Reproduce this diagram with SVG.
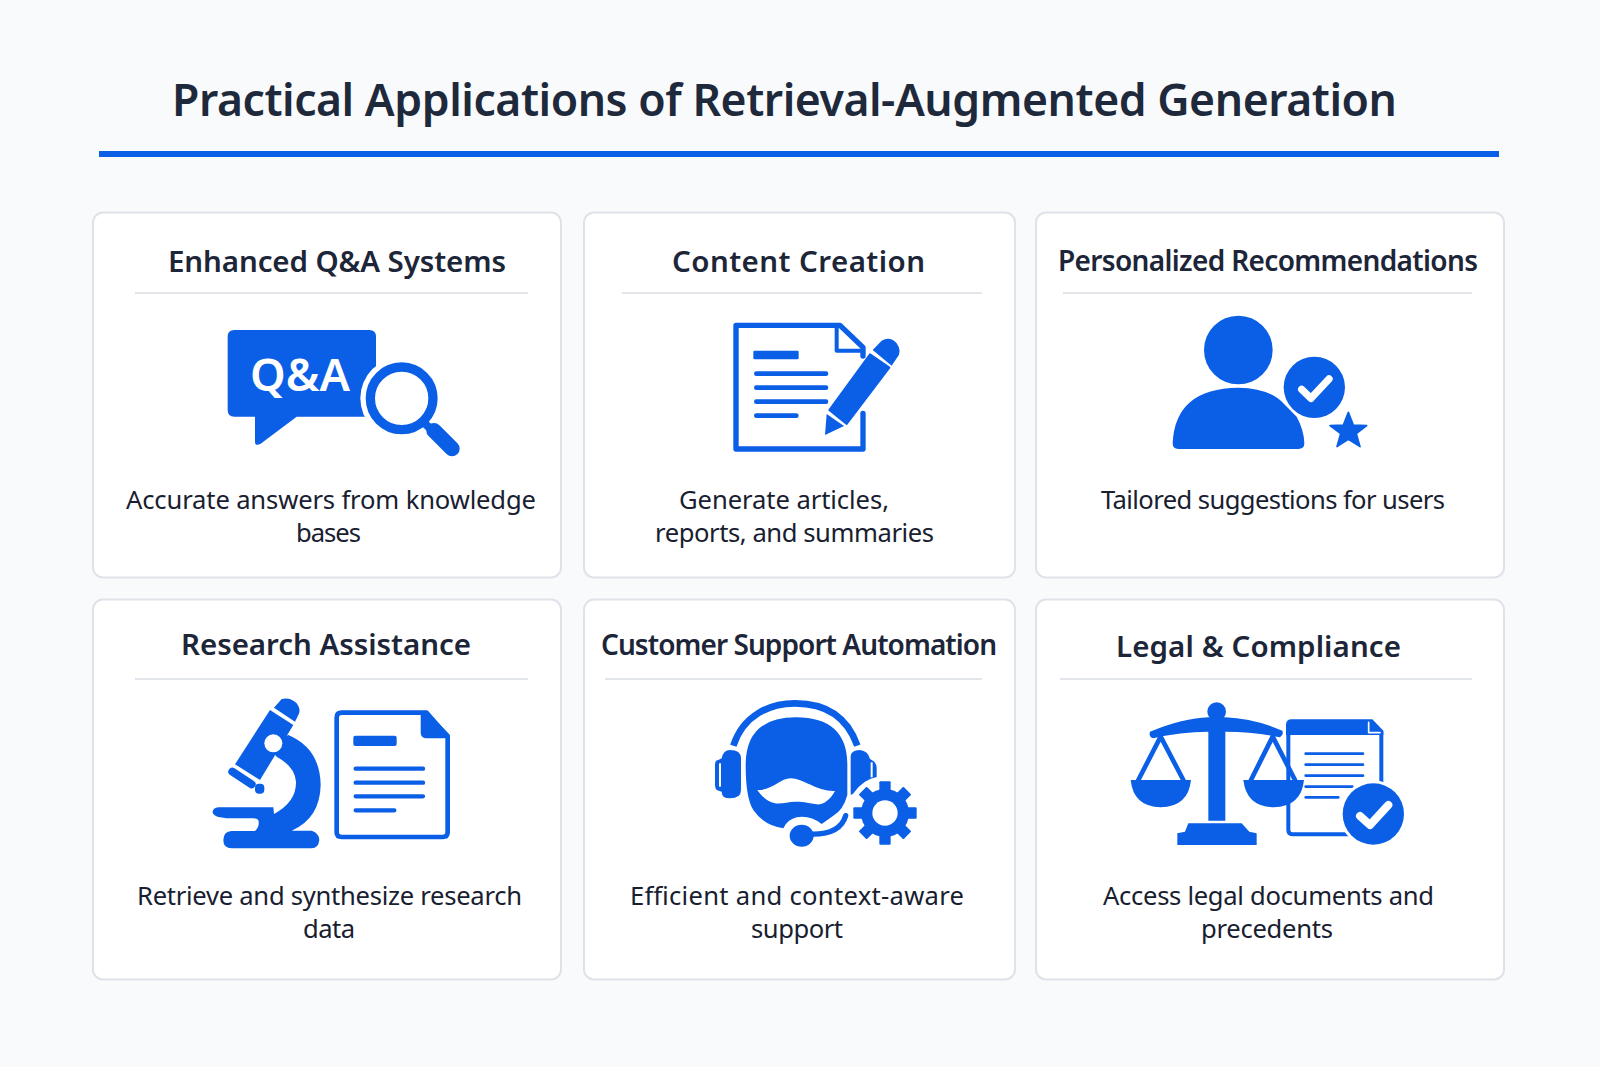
<svg xmlns="http://www.w3.org/2000/svg" width="1600" height="1067" viewBox="0 0 1600 1067">
<style>
text{font-family:"Noto Sans","Open Sans","Liberation Sans",sans-serif}
.title{font-size:44.5px;font-weight:600;fill:#1e293b}
.head{font-size:29.5px;font-weight:600;fill:#1c2638}
.small{font-size:28px}
.body{font-size:25.6px;font-weight:400;fill:#182030}
.card{fill:#fff;stroke:#dfe3e9;stroke-width:2}
.rule{stroke:#d8dce2;stroke-width:1.6}
.b{fill:#0a5fe6}
.w{fill:#fff}
.ls{stroke:#0a5fe6;fill:none;stroke-linecap:round;stroke-linejoin:round}
.ws{stroke:#fff;fill:none;stroke-linecap:round;stroke-linejoin:round}
</style>
<rect width="1600" height="1067" fill="#f9fafb"/>
<g id="header">
<text class="title" x="172" y="115.500" textLength="1225">Practical Applications of Retrieval-Augmented Generation</text>
<rect x="99" y="151" width="1400" height="6" class="b"/>
</g>
<g id="card-qa">
<rect class="card" x="93" y="212.500" width="468" height="365" rx="10"/>
<text class="head" x="168" y="272" textLength="338">Enhanced Q&amp;A Systems</text>
<line class="rule" x1="135" y1="293" x2="528" y2="293"/>
<g transform="translate(200,300) scale(.33333)">
<path class="b" d="M103,90H508Q528,90 528,110V330Q528,350 508,350H290L182,431Q165,440 165,425V350H103Q83,350 83,330V110Q83,90 103,90Z"/>
<text x="150" y="272" font-size="136" font-weight="600" class="w" textLength="300">Q&amp;A</text>
<circle cx="605" cy="295" r="124" class="w"/>
<circle cx="605" cy="295" r="94" fill="#fff" stroke="#0a5fe6" stroke-width="28"/>
<path class="ls" d="M672,368L700,395" stroke-width="24"/>
<path class="ls" d="M702,392L756,446" stroke-width="46"/>
</g>
</g>
<g id="card-content">
<rect class="card" x="584" y="212.500" width="431" height="365" rx="10"/>
<text class="head" x="672" y="272" textLength="253">Content Creation</text>
<line class="rule" x1="622" y1="293" x2="982" y2="293"/>
<g transform="translate(700,300) scale(.33333)">
<path class="ls" stroke-width="16" d="M489,340V447H108V76H420L489,142V168"/>
<path class="ls" stroke-width="12" d="M410,82V152H484"/>
<rect class="b" x="160" y="152" width="136" height="26" rx="4"/>
<path class="ls" stroke-width="14" d="M169,221H378M169,263H378M169,305H378M169,347H289"/>
<path class="b" d="M510,163L568,203L440,372L388,330Z" stroke="#0a5fe6" stroke-width="6" stroke-linejoin="round"/>
<path class="b" d="M518,150L545,122Q570,108 590,130Q608,155 590,175L575,197Z"/>
<path class="b" d="M380,342L432,378L375,405Z"/>
</g>
</g>
<g id="card-recommend">
<rect class="card" x="1036" y="212.500" width="468" height="365" rx="10"/>
<text class="head small" x="1058" y="271" textLength="420">Personalized Recommendations</text>
<line class="rule" x1="1063" y1="293" x2="1472" y2="293"/>
<g transform="translate(1150,300) scale(.33333)">
<circle class="b" cx="265" cy="150" r="103"/>
<path class="b" d="M68,430Q75,265 265,263Q360,265 400,310L440,350Q462,390 463,430Q463,447 445,447H85Q68,447 68,430Z"/>
<circle class="b" cx="493" cy="262" r="92"/>
<path class="ws" stroke-width="22" d="M455,268L483,295L537,237"/>
<path class="b" stroke="#0a5fe6" stroke-width="5" stroke-linejoin="round" d="M595,337L610,375L650,377L619,401L630,440L595,418L561,440L572,401L540,377L580,375Z"/>
</g>
</g>
<g id="card-research">
<rect class="card" x="93" y="599.500" width="468" height="380" rx="10"/>
<text class="head" x="181" y="655" textLength="290">Research Assistance</text>
<line class="rule" x1="135" y1="679" x2="528" y2="679"/>
<g transform="translate(200,685) scale(.33333)">
<path class="b" d="M210,75L280,120L180,285L105,238Z"/>
<path class="b" d="M222,68L245,42Q270,35 290,55Q305,75 295,90L285,110Z"/>
<path class="ls" stroke-width="24" d="M97,260L155,298"/>
<rect class="b" x="165" y="296" width="28" height="30" rx="12"/>
<path class="b" d="M265,150Q360,190 362,300Q360,400 275,437H335Q358,445 358,465Q355,490 335,490H95Q70,490 70,465Q70,440 95,438H165Q180,425 175,405Q170,400 160,400H80L55,396Q37,390 38,380Q40,368 55,367H220L222,387Q290,350 288,290Q285,245 230,215L200,180Z"/>
<circle class="w" cx="220" cy="175" r="27"/>
<path class="ls" stroke-width="14" d="M680,83H425Q410,83 410,98V442Q410,456 425,456H728Q743,456 743,442V155Z"/>
<path class="b" d="M662,85L680,78L750,150L745,160H680Q662,160 662,142Z"/>
<rect class="b" x="460" y="152" width="130" height="31" rx="6"/>
<path class="ls" stroke-width="13" d="M467,251H669M467,293H669M467,334H669M467,376H583"/>
</g>
</g>
<g id="card-support">
<rect class="card" x="584" y="599.500" width="431" height="380" rx="10"/>
<text class="head small" x="601" y="655" textLength="396">Customer Support Automation</text>
<line class="rule" x1="605" y1="679" x2="982" y2="679"/>
<g transform="translate(700,685) scale(.33333)">
<path fill="none" stroke="#0a5fe6" stroke-width="20" d="M100,182C130,90 210,55 285,55C370,55 440,90 472,182"/>
<path class="b" d="M90,195Q123,195 123,220V315Q123,340 90,340Q65,340 65,320L50,315Q45,310 45,300V240Q45,225 55,225L65,220Q70,195 90,195Z"/>
<rect class="w" x="57" y="235" width="6" height="70"/>
<path class="b" d="M452,215Q452,195 480,195Q505,198 510,222L520,228Q530,235 530,250V290L452,330Z"/>
<rect class="w" x="512" y="232" width="6" height="45"/>
<path class="b" d="M137,240Q137,97 288,97Q442,97 442,240V330Q430,375 400,392L365,417Q330,390 290,397Q260,405 250,430Q190,420 160,375Q137,340 137,240Z"/>
<path class="w" d="M172,315C215,318 240,280 272,280C310,280 350,320 405,318C390,345 370,360 350,358C320,352 305,350 285,350C265,350 245,358 225,355C205,352 185,335 172,315Z"/>
<circle class="w" cx="555" cy="385" r="112"/>
<path class="ls" stroke-width="16" d="M330,447Q420,450 437,392"/>
<ellipse class="b" cx="305" cy="452" rx="36" ry="33"/>
<g transform="translate(555,384)">
<circle r="72" class="b"/>
<g class="b"><rect x="-17" y="-95" width="34" height="40" rx="3"/><rect x="-17" y="-95" width="34" height="40" rx="3" transform="rotate(45)"/><rect x="-17" y="-95" width="34" height="40" rx="3" transform="rotate(90)"/><rect x="-17" y="-95" width="34" height="40" rx="3" transform="rotate(135)"/><rect x="-17" y="-95" width="34" height="40" rx="3" transform="rotate(180)"/><rect x="-17" y="-95" width="34" height="40" rx="3" transform="rotate(225)"/><rect x="-17" y="-95" width="34" height="40" rx="3" transform="rotate(270)"/><rect x="-17" y="-95" width="34" height="40" rx="3" transform="rotate(315)"/></g>
<circle r="38" class="w"/>
</g>
</g>
</g>
<g id="card-legal">
<rect class="card" x="1036" y="599.500" width="468" height="380" rx="10"/>
<text class="head" x="1116" y="656.500" textLength="285">Legal &amp; Compliance</text>
<line class="rule" x1="1060" y1="679" x2="1472" y2="679"/>
<g transform="translate(1120,690) scale(.33333)">
<path class="ls" stroke-width="12" d="M505,130V420Q505,433 520,433H690M784,125V300"/>
<path class="b" d="M498,135V105Q498,88 515,88H757L790,122V135Z"/>
<path class="ws" stroke-width="5" stroke-linecap="butt" d="M746,97V128H780"/>
<path class="ls" stroke-width="8" d="M557,191H729M557,224H729M557,257H729M557,290H697M557,322H655"/>
<circle class="w" cx="760" cy="372" r="101"/>
<circle class="b" cx="760" cy="372" r="92"/>
<path class="ws" stroke-width="24" d="M720,378L750,405L805,345"/>
<path class="b" d="M265,100H316V392H265Z"/>
<circle class="b" cx="290" cy="65" r="28"/>
<path class="b" d="M90,125Q190,85 265,82H316Q400,85 487,122Q492,135 480,142Q400,125 316,125H265Q180,125 100,145Q85,140 90,125Z"/>
<path class="b" d="M205,400H365L388,425L410,430V465H172V430L195,425Z"/>
<path class="ls" stroke-width="14" d="M55,270L122,140L190,270"/>
<path class="ls" stroke-width="14" d="M393,270L458,140L525,270"/>
<path class="b" d="M32,270H213Q205,350 122,352Q40,350 32,270Z"/>
<path class="b" d="M370,270H552Q544,350 461,352Q379,350 370,270Z"/>
</g>
</g>
<g id="body-text">
<text class="body" x="126" y="509" textLength="410">Accurate answers from knowledge</text>
<text class="body" x="296" y="542" textLength="65">bases</text>
<text class="body" x="679" y="509" textLength="210">Generate articles,</text>
<text class="body" x="655" y="542" textLength="279">reports, and summaries</text>
<text class="body" x="1101" y="509" textLength="344">Tailored suggestions for users</text>
<text class="body" x="137" y="905" textLength="385">Retrieve and synthesize research</text>
<text class="body" x="303" y="938" textLength="52">data</text>
<text class="body" x="630" y="905" textLength="334">Efficient and context-aware</text>
<text class="body" x="751" y="938" textLength="92">support</text>
<text class="body" x="1103" y="905" textLength="331">Access legal documents and</text>
<text class="body" x="1201" y="938" textLength="132">precedents</text>
</g>
</svg>
